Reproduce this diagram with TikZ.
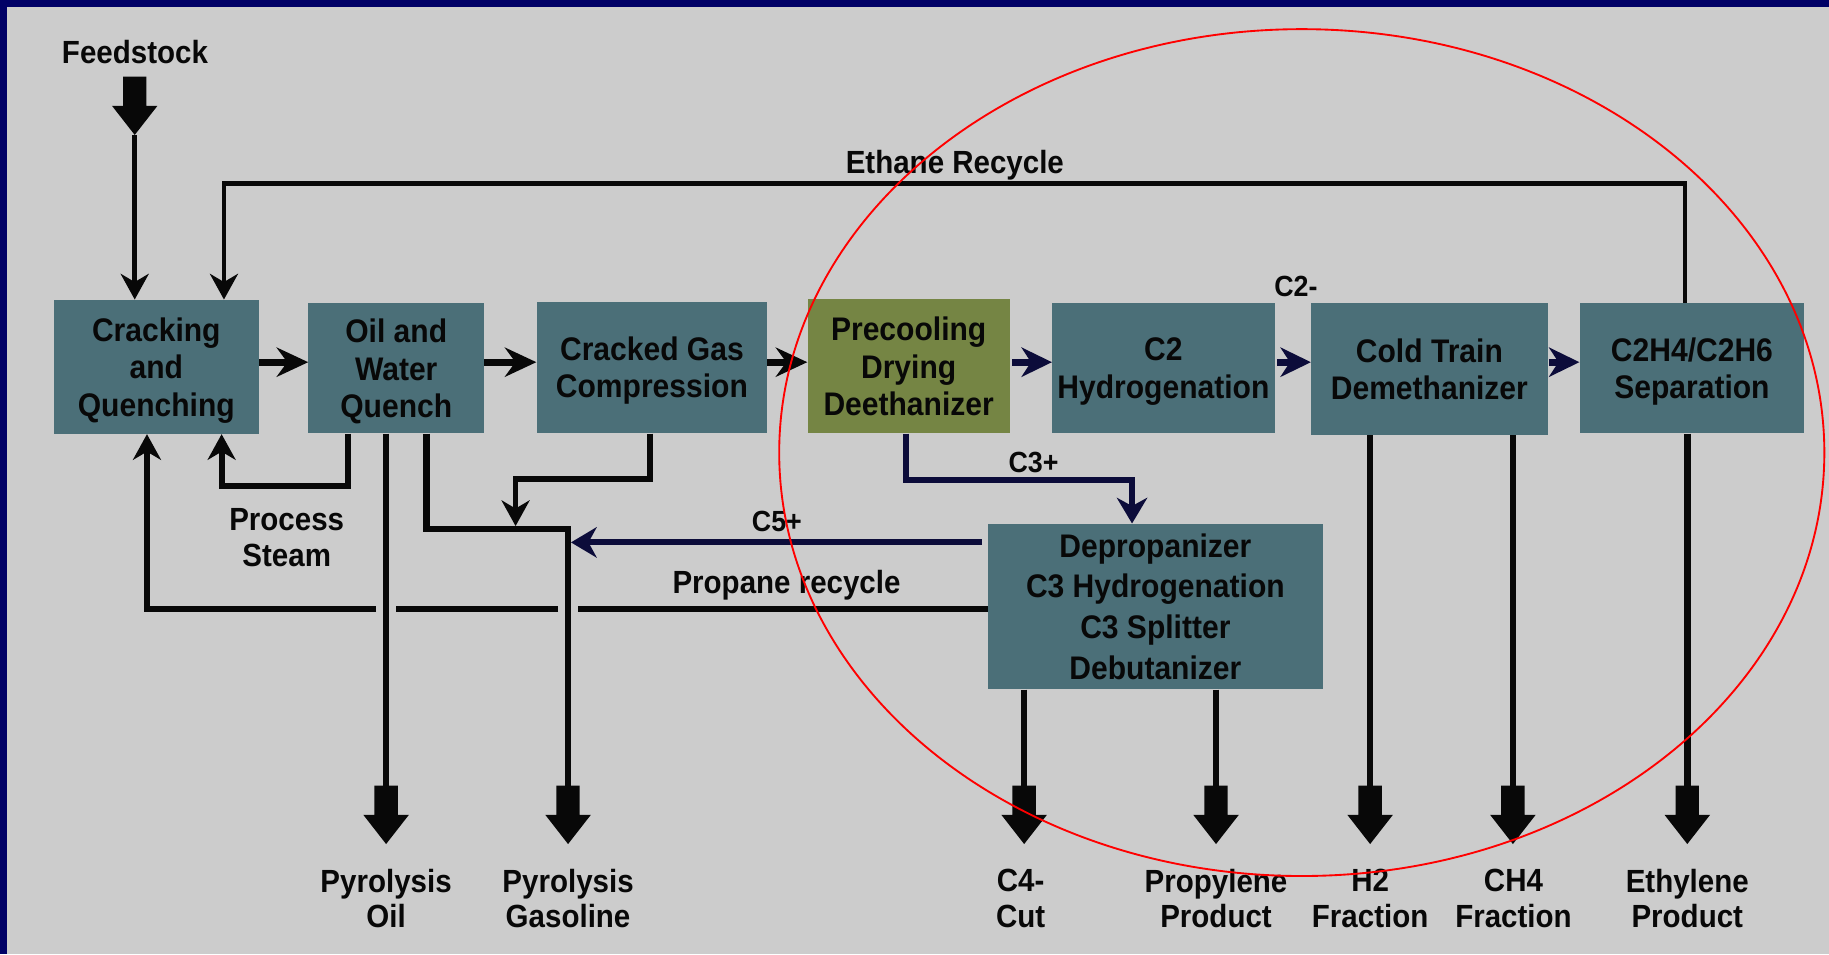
\documentclass[tikz,border=0pt]{standalone}
\usepackage{fontspec}
\setmainfont{Liberation Sans}[FakeStretch=0.92]
\usetikzlibrary{arrows.meta,calc}

\definecolor{frame}{RGB}{0,0,102}
\definecolor{panel}{RGB}{204,204,204}
\definecolor{unitteal}{RGB}{75,111,120}
\definecolor{unitolive}{RGB}{117,133,68}
\definecolor{deepnavy}{RGB}{12,12,58}
\definecolor{ink}{RGB}{8,8,8}

\tikzset{
  unit/.style={fill=unitteal, inner sep=0pt, align=center, text=ink, text depth=0pt,
    font=\fontsize{28}{32}\selectfont\bfseries},
  lbl/.style={inner sep=0pt, align=center, text=ink,
    font=\fontsize{27.5}{30.5}\selectfont\bfseries},
  small lbl/.style={inner sep=0pt, text=ink,
    font=\fontsize{25}{28}\selectfont\bfseries},
  flow/.style={draw=ink, line width=5pt},
  product/.style={draw=ink, line width=5.5pt},
  recycle/.style={draw=ink, line width=4.2pt},
  barb/.style={-{Stealth[length=22pt,width=24pt,inset=7pt]}},
  fat/.style={draw=ink, line width=6pt, -{Stealth[length=27pt,width=25pt,inset=9pt]}},
  navyfat/.style={draw=deepnavy, line width=6pt, -{Stealth[length=26pt,width=25pt,inset=8pt]}},
  navyflow/.style={draw=deepnavy, line width=5pt, -{Stealth[length=22pt,width=26pt,inset=7pt]}},
  bigdown/.pic={\fill[ink] (-10,-50) -- (10,-50) -- (10,-25) -- (19.5,-25) -- (0,0)
      -- (-19.5,-25) -- (-10,-25) -- cycle;}
}

\begin{document}
\begin{tikzpicture}[x=1pt,y=-1pt]
\useasboundingbox (0,0) rectangle (1568,818);
% slide frame and panel
\fill[frame] (0,0) rectangle (1568,818);
\fill[panel] (5.8,6.3) rectangle (1568,818);

% process units
\node[unit, minimum width=176pt, minimum height=115pt] (crk) at (134,314.5) {Cracking\\and\\Quenching};
\node[unit, minimum width=150.5pt, minimum height=111.5pt] (owq) at (339.7,315.7) {Oil and\\Water\\Quench};
\node[unit, minimum width=197.7pt, minimum height=113pt] (cgc) at (558.9,315) {Cracked Gas\\Compression};
\node[unit, fill=unitolive, minimum width=173.4pt, minimum height=115pt] (pdd) at (779,314) {Precooling\\Drying\\Deethanizer};
\node[unit, minimum width=190.7pt, minimum height=111.5pt] (c2h) at (997.4,315.7) {C2\\Hydrogenation};
\node[unit, minimum width=202.7pt, minimum height=113pt] (ctd) at (1225.4,316.5) {Cold Train\\Demethanizer};
\node[unit, minimum width=192.5pt, minimum height=111.5pt] (sep) at (1450.5,315.7) {C2H4/C2H6\\Separation};
\node[unit, font=\fontsize{28}{35}\selectfont\bfseries, minimum width=287pt, minimum height=142pt] (dpp) at (990.5,520) {Depropanizer\\C3 Hydrogenation\\C3 Splitter\\Debutanizer};

% stream labels
\node[lbl, anchor=base] (feed) at (115.7,54.3) {Feedstock};
\node[lbl, anchor=base] (ethlbl) at (818.6,148.6) {Ethane Recycle};
\node[small lbl, anchor=base] (c2lbl) at (1111,254.3) {C2-};
\node[small lbl, anchor=base] (c3lbl) at (886,405.3) {C3+};
\node[small lbl, anchor=base] (c5lbl) at (666,455.8) {C5+};
\node[lbl, anchor=base] (prplbl) at (674.3,509) {Propane recycle};
\node[lbl] (stmlbl) at (245.8,461) {Process\\Steam};
\node[lbl] (oillbl) at (331,770.3) {Pyrolysis\\Oil};
\node[lbl] (gaslbl) at (487,770.3) {Pyrolysis\\Gasoline};
\node[lbl] (c4lbl) at (875,770.3) {C4-\\Cut};
\node[lbl] (prlbl) at (1042.5,770.3) {Propylene\\Product};
\node[lbl] (h2lbl) at (1174.6,770.3) {H2\\Fraction};
\node[lbl] (ch4lbl) at (1297.5,770.3) {CH4\\Fraction};
\node[lbl] (etlbl) at (1446.5,770.3) {Ethylene\\Product};

% routing points
\coordinate (row) at (0,310.5);
\coordinate (feedtip) at (115.5,115.7);
\coordinate (ethR) at (1444.5,157);
\coordinate (ethL) at (192,157);
\coordinate (stmR) at (298.6,417);
\coordinate (stmL) at (190,417);
\coordinate (prpL) at (126,522);
\coordinate (gasA) at (365.5,453.5);
\coordinate (gasB) at (487,453.5);
\coordinate (cgA) at (557,411);
\coordinate (cgB) at (442,411);
\coordinate (c5tip) at (489.5,465);
\coordinate (c3A) at (776.5,411.5);
\coordinate (c3B) at (970.5,411.5);
\coordinate (oilTip) at (331,723.6);
\coordinate (gasTip) at (487,723.6);
\coordinate (c4Tip) at (878,723.6);
\coordinate (prTip) at (1042.5,723.6);
\coordinate (h2Tip) at (1174.6,723.6);
\coordinate (ch4Tip) at (1297,723.6);
\coordinate (etTip) at (1446.5,723.6);

% feed
\draw[recycle, barb] (feedtip) -- (feedtip |- crk.north);
\pic at (feedtip) {bigdown};

% ethane recycle
\draw[recycle, barb] (ethR |- sep.north) -- (ethR) -- (ethL) -- (ethL |- crk.north);

% main train
\draw[fat] (crk.east |- row) -- (owq.west |- row);
\draw[fat] (owq.east |- row) -- (cgc.west |- row);
\draw[fat] (cgc.east |- row) -- (pdd.west |- row);
\draw[navyfat] ($(pdd.east |- row)+(2,0)$) -- (c2h.west |- row);
\draw[navyfat] ($(c2h.east |- row)+(2,0)$) -- (ctd.west |- row);
\draw[navyfat] ($(ctd.east |- row)+(1,0)$) -- (sep.west |- row);

% process steam
\draw[flow, barb] (owq.south -| stmR) -- (stmR) -- (stmL) -- (stmL |- crk.south);

% propane recycle, broken where the product lines pass
\draw[flow, barb] (dpp.west |- prpL) -- ($(gasTip |- prpL)+(8.5,0)$)
  ($(gasTip |- prpL)+(-8.5,0)$) -- ($(oilTip |- prpL)+(8.5,0)$)
  ($(oilTip |- prpL)+(-8.5,0)$) -- (prpL) -- (prpL |- crk.south);

% pyrolysis oil and gasoline
\draw[product] (owq.south -| oilTip) -- ($(oilTip)+(0,-47)$);
\draw[product] (owq.south -| gasA) -- (gasA) -- (gasB) -- ($(gasTip)+(0,-47)$);
\draw[flow, barb] (cgc.south -| cgA) -- (cgA) -- (cgB) -- ($(cgB |- gasA)+(0,-2.5)$);

% C5+ and C3+
\draw[navyflow] ($(dpp.west |- c5tip)+(-5,0)$) -- (c5tip);
\draw[navyflow] (pdd.south -| c3A) -- (c3A) -- (c3B) -- (c3B |- dpp.north);

% products
\draw[product] (dpp.south -| c4Tip) -- ($(c4Tip)+(0,-47)$);
\draw[product] (dpp.south -| prTip) -- ($(prTip)+(0,-47)$);
\draw[product] (ctd.south -| h2Tip) -- ($(h2Tip)+(0,-47)$);
\draw[product] (ctd.south -| ch4Tip) -- ($(ch4Tip)+(0,-47)$);
\draw[product] (sep.south -| etTip) -- ($(etTip)+(0,-47)$);
\foreach \t in {oilTip,gasTip,c4Tip,prTip,h2Tip,ch4Tip,etTip} {\pic at (\t) {bigdown};}

% highlighted separation section
\draw[red, line width=1.6pt] (1116,388) ellipse [x radius=448pt, y radius=363pt];
\end{tikzpicture}
\end{document}
